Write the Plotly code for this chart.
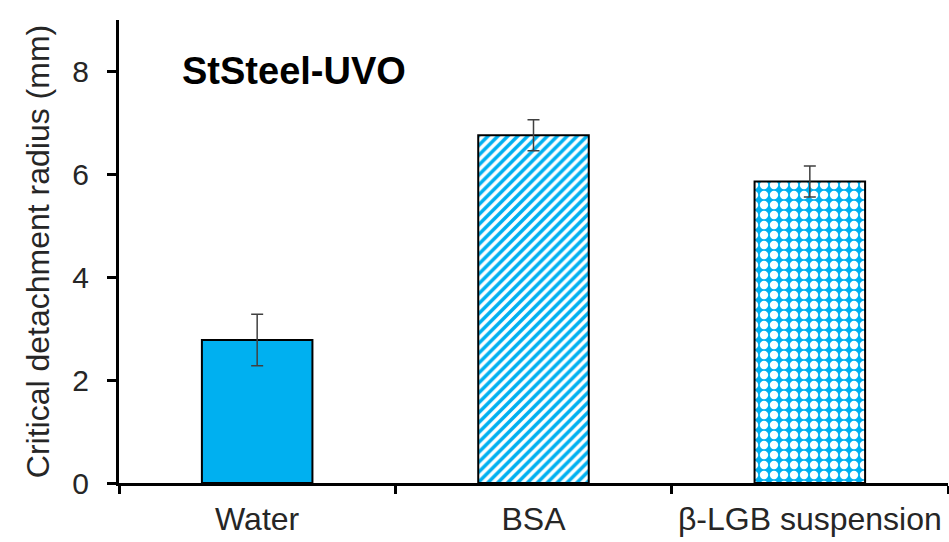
import plotly.graph_objects as go

categories = ["Water", "BSA", "β-LGB suspension"]
values = [2.78, 6.76, 5.86]
errors = [0.50, 0.30, 0.30]
pattern_shapes = ["", "/", "."]
chart_title = "StSteel-UVO"
y_title = "Critical detachment radius (mm)"

BLUE = "#00B0F0"

fig = go.Figure()
for cat, val, err, shp in zip(categories, values, errors, pattern_shapes):
    if shp == "":
        marker = dict(color=BLUE, line=dict(color="black", width=2))
    elif shp == "/":
        marker = dict(color=BLUE, line=dict(color="black", width=2),
                      pattern=dict(shape="/", fgcolor=BLUE, bgcolor="white",
                                   size=7, solidity=0.5, fillmode="replace"))
    else:
        marker = dict(color=BLUE, line=dict(color="black", width=2),
                      pattern=dict(shape=".", fgcolor="white", bgcolor=BLUE,
                                   size=10, solidity=0.55, fillmode="replace"))
    fig.add_trace(go.Bar(
        x=[cat], y=[val], width=0.4, marker=marker,
        error_y=dict(type="data", array=[err], color="#404040", thickness=1.5, width=6),
        showlegend=False,
    ))

fig.update_layout(
    width=949, height=542,
    margin=dict(l=119, r=1, t=20, b=59, autoexpand=False),
    plot_bgcolor="white", paper_bgcolor="white",
    font=dict(family="Liberation Sans, Arial, sans-serif", color="#262626"),
    bargap=0.6,
)
fig.update_xaxes(
    type="category", range=[-0.5, 2.5], automargin=False,
    showline=True, linecolor="black", linewidth=3,
    ticks="outside", tickson="boundaries", ticklen=8, tickwidth=3, tickcolor="black",
    tickfont=dict(size=32, color="#262626"), ticklabelstandoff=6,
    showgrid=False, zeroline=False,
)
fig.update_yaxes(
    range=[0, 9], tickvals=[0, 2, 4, 6, 8], automargin=False,
    showline=True, linecolor="black", linewidth=3,
    ticks="outside", ticklen=9, tickwidth=3, tickcolor="black",
    tickfont=dict(size=30, color="#262626"), ticklabelstandoff=12,
    showgrid=False, zeroline=False,
    title=dict(text=y_title, font=dict(size=32, color="#262626"), standoff=14),
)
fig.add_annotation(
    text="<b>" + chart_title + "</b>", xref="paper", yref="y",
    x=0.074, y=8, xanchor="left", yanchor="middle", showarrow=False,
    font=dict(size=38, color="black"),
)

fig.write_html("out.html", config={"displayModeBar": False},
               post_script="document.body.style.margin='0';")
